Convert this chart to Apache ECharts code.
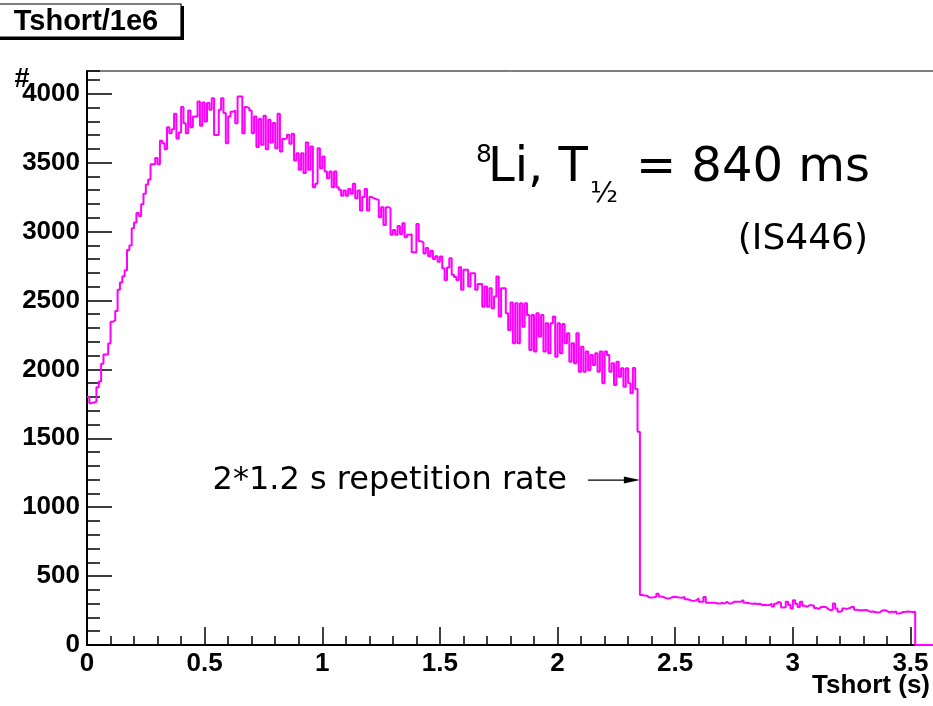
<!DOCTYPE html>
<html><head><meta charset="utf-8">
<script src="https://cdn.jsdelivr.net/npm/echarts@6/dist/echarts.min.js"></script>
<style>html,body{margin:0;padding:0;background:#fff}#c{width:933px;height:706px}</style>
</head><body><div id="c"></div>
<script>
// Histogram "Tshort/1e6": bin width 0.01 s, range 0 - 3.6 s (360 bins)
const binStart = 0;
const binWidth = 0.01;
const xRange = [0, 3.6];
const yRange = [0, 4165];
const xMajorStep = 0.5, xMinorStep = 0.1;
const yMajorStep = 500, yMinorStep = 100;

const counts000 = [
1800,1755,1760,1765,1870,1912,2040,2107,2107,2187,
2345,2355,2423,2577,2630,2676,2720,2866,2898,3024,
3066,3134,3112,3199,3275,3341,3377,3489,3489,3533,
3489,3659,3640,3598,3757,3713,3742,3854,3676,3718,
3903,3786,3713,3878,3757,3835,3835,3944,3767,3937,
3798,3932,3883,3968,3701,3701,3883,3968,3860,3640];
const counts060 = [
3835,3870,3878,3786,3980,3980,3714,3903,3896,3879,
3714,3835,3613,3816,3630,3840,3598,3811,3646,3787,
3605,3855,3581,3671,3678,3702,3637,3709,3516,3569,
3448,3569,3424,3646,3448,3617,3322,3346,3605,3460,
3545,3436,3387,3436,3322,3436,3322,3303,3259,3298,
3259,3308,3274,3346,3242,3298,3153,3250,3308,3153];
const counts120 = [
3250,3242,3235,3230,3104,3177,3048,3177,3170,2976,
3012,2976,3041,2983,3061,2959,2976,2980,2850,2850,
3055,2930,2920,2840,2880,2820,2860,2800,2820,2780,
2819,2734,2649,2740,2807,2686,2670,2649,2741,2577,
2722,2722,2601,2698,2698,2577,2620,2620,2455,2601,
2455,2589,2443,2528,2673,2383,2589,2589,2407,2286];
const counts180 = [
2485,2189,2480,2189,2480,2310,2480,2395,2141,2395,
2129,2407,2238,2395,2129,2334,2117,2334,2383,2092,
2334,2117,2330,2189,2262,2056,2189,2044,2262,1983,
2165,1983,2129,1996,2105,2032,2117,1983,2129,1899,
2129,2105,1983,2044,1887,2056,1947,2008,1874,2008,
1900,1826,2010,1857,1548,362,360,358,345,344];
const counts240 = [
346,350,372,352,349,340,338,342,348,350,
346,344,343,348,332,328,322,320,325,338,
313,313,349,306,306,306,306,301,301,305,
301,313,301,301,313,313,313,315,325,306,
305,301,299,301,298,300,289,292,288,290,
300,280,300,313,305,272,274,313,290,265];
const counts300 = [
325,300,275,313,285,276,289,288,285,268,
262,275,277,276,262,253,255,301,265,241,
248,264,262,266,277,275,255,253,253,252,
254,250,241,243,240,236,238,250,252,248,
236,242,240,243,228,232,240,241,243,241,
240,241,0,0,0,0,0,0,0,0];

const counts = [].concat(counts000, counts060, counts120, counts180, counts240, counts300);

const titleText = 'Tshort/1e6';
const xTitle = 'Tshort (s)';
const yTitle = '#';
const noteMain = ['8', 'Li, T', '\u00bd', '= 840 ms'];
const noteRun = '(IS446)';
const noteArrow = '2*1.2 s repetition rate';
const arrowTarget = [2.35, 1197];

// step-histogram points (bin left edges), closed at the last edge
const histData = counts.map((c, i) => [binStart + i * binWidth, c]);
histData.push([binStart + counts.length * binWidth, counts[counts.length - 1]]);

const chart = echarts.init(document.getElementById('c'), null, {renderer: 'canvas'});

const labelFont = {color: '#000', fontFamily: 'Liberation Sans, Arial, sans-serif', fontWeight: 'bold', fontSize: 26};

chart.setOption({
  animation: false,
  backgroundColor: '#fff',
  grid: {left: 87, top: 71, width: 847, height: 574, show: true, borderColor: '#000', borderWidth: 1, backgroundColor: 'transparent', containLabel: false, outerBoundsMode: 'none'},
  xAxis: [
    {type: 'value', min: xRange[0], max: xRange[1], interval: xMajorStep, position: 'bottom',
     axisLine: {show: true, onZero: false, lineStyle: {color: '#000', width: 2}},
     axisTick: {show: true, inside: true, length: 18, lineStyle: {color: '#000', width: 1.5}},
     axisLabel: Object.assign({show: true, showMaxLabel: false, margin: 6, formatter: v => String(+(+v).toFixed(2))}, labelFont),
     splitLine: {show: false}, minorTick: {show: false}},
    {type: 'value', min: xRange[0], max: xRange[1], interval: xMinorStep, position: 'bottom',
     axisLine: {show: false, onZero: false},
     axisTick: {show: true, inside: true, length: 9, lineStyle: {color: '#000', width: 1.5}},
     axisLabel: {show: false}, splitLine: {show: false}}
  ],
  yAxis: [
    {type: 'value', min: yRange[0], max: yRange[1], interval: yMajorStep, position: 'left',
     axisLine: {show: true, onZero: false, lineStyle: {color: '#000', width: 2}},
     axisTick: {show: true, inside: true, length: 25, lineStyle: {color: '#000', width: 1.5}},
     axisLabel: Object.assign({show: true, showMaxLabel: false, margin: 7, formatter: v => String(Math.round(v))}, labelFont),
     splitLine: {show: false}},
    {type: 'value', min: yRange[0], max: yRange[1], interval: yMinorStep, position: 'left',
     axisLine: {show: false, onZero: false},
     axisTick: {show: true, inside: true, length: 13, lineStyle: {color: '#000', width: 1.5}},
     axisLabel: {show: false}, splitLine: {show: false}}
  ],
  series: [{
    type: 'line', xAxisIndex: 0, yAxisIndex: 0, step: 'end', symbol: 'none', showSymbol: false,
    lineStyle: {color: '#ff00ff', width: 2}, itemStyle: {color: '#ff00ff'},
    data: histData, z: 5, clip: true
  }]
});

const tip = chart.convertToPixel({xAxisIndex: 0, yAxisIndex: 0}, arrowTarget);
const dj = 'DejaVu Sans, sans-serif';
const bold = 'Liberation Sans, Arial, sans-serif';

chart.setOption({graphic: [
  // title box with shadow
  {type: 'rect', shape: {x: 0, y: 6, width: 184, height: 34}, style: {fill: '#000'}, z: 10},
  {type: 'rect', shape: {x: -2, y: 4, width: 183, height: 33}, style: {fill: '#fff', stroke: '#000', lineWidth: 1.2}, z: 11},
  {type: 'text', x: 86, y: 22, style: {text: titleText, font: 'bold 29px ' + bold, fill: '#000', align: 'center', verticalAlign: 'middle'}, z: 12},
  // axis titles
  {type: 'text', x: 22, y: 80, style: {text: yTitle, font: 'bold 27px ' + bold, fill: '#000', align: 'center', verticalAlign: 'middle'}, z: 12},
  {type: 'text', x: 930, y: 686, style: {text: xTitle, font: 'bold 26px ' + bold, fill: '#000', align: 'right', verticalAlign: 'middle'}, z: 12},
  // 8Li, T1/2 = 840 ms
  {type: 'text', x: 476, y: 155, style: {text: noteMain[0], font: '25px ' + dj, fill: '#000', align: 'left', verticalAlign: 'middle'}, z: 12},
  {type: 'text', x: 488, y: 169, style: {text: noteMain[1], font: '48px ' + dj, fill: '#000', align: 'left', verticalAlign: 'middle'}, z: 12},
  {type: 'text', x: 590, y: 194, style: {text: noteMain[2], font: '29px ' + dj, fill: '#000', align: 'left', verticalAlign: 'middle'}, z: 12},
  {type: 'text', x: 870, y: 169, style: {text: noteMain[3], font: '48px ' + dj, fill: '#000', align: 'right', verticalAlign: 'middle'}, z: 12},
  {type: 'text', x: 868, y: 240, style: {text: noteRun, font: '36px ' + dj, fill: '#000', align: 'right', verticalAlign: 'middle'}, z: 12},
  // repetition-rate arrow
  {type: 'text', x: tip[0] - 73, y: tip[1] + 1, style: {text: noteArrow, font: '32px ' + dj, fill: '#000', align: 'right', verticalAlign: 'middle'}, z: 12},
  {type: 'line', shape: {x1: tip[0] - 52, y1: tip[1], x2: tip[0] - 14, y2: tip[1]}, style: {stroke: '#000', lineWidth: 1.3}, z: 12},
  {type: 'polygon', shape: {points: [[tip[0], tip[1]], [tip[0] - 16, tip[1] - 3.5], [tip[0] - 16, tip[1] + 3.5]]}, style: {fill: '#000'}, z: 12}
]});
</script></body></html>
